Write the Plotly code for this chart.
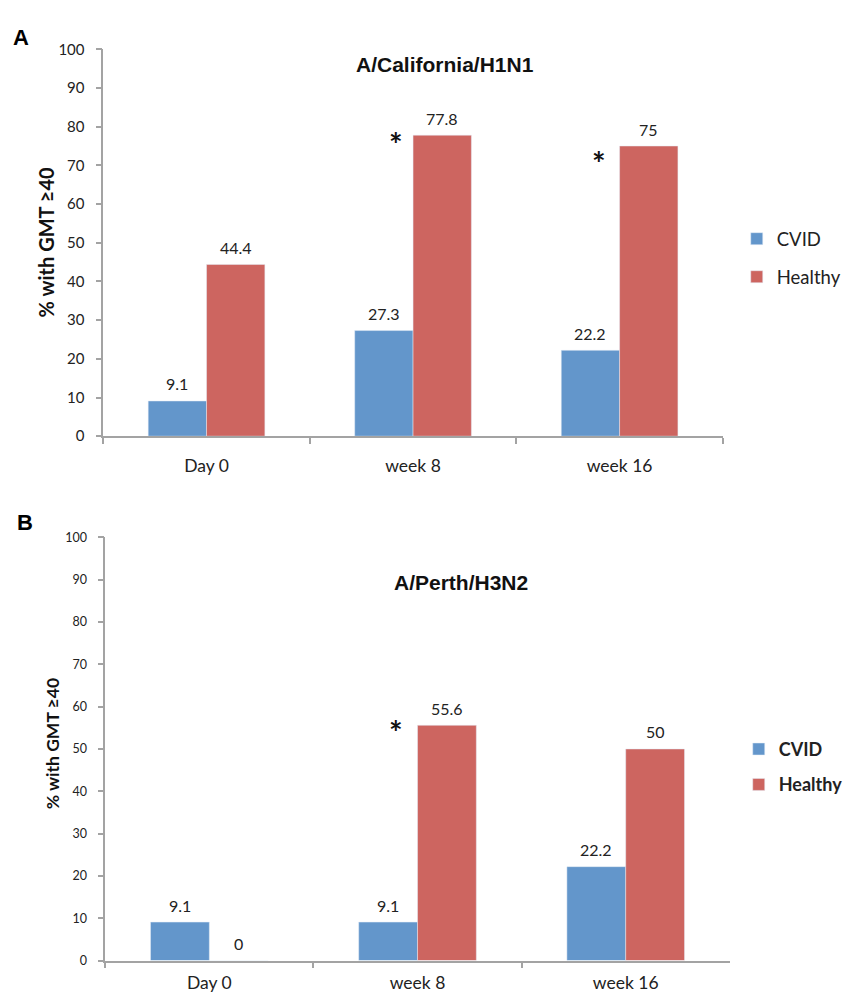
import plotly.graph_objects as go

# ---------------- data ----------------
categories = ["Day 0", "week 8", "week 16"]
h1n1_cvid = [9.1, 27.3, 22.2]
h1n1_healthy = [44.4, 77.8, 75]
h3n2_cvid = [9.1, 9.1, 22.2]
h3n2_healthy = [0, 55.6, 50]
y_ticks = list(range(0, 101, 10))
series_names = ["CVID", "Healthy"]
h1n1_star_cats = ["week 8", "week 16"]
h1n1_star_y = [77.4, 72.6]
h3n2_star_cats = ["week 8"]
h3n2_star_y = [55.9]

# ---------------- style ----------------
W, H = 848, 1002
BLUE = "#6396cb"
RED = "#cd6560"
AXIS = "#a3a3a3"
TXT = "#222222"
BODY = "Lato, 'Open Sans', sans-serif"
ARIAL = "'Liberation Sans', Arial, sans-serif"
BARGAP = 0.435

# pixel layout of the two panels
top_px = dict(x0=104, x1=728, y0=40, y1=434)
bot_px = dict(x0=106, x1=735, y0=537, y1=968)


def xdom(p):
    return [p["x0"] / W, p["x1"] / W]


def ydom(p):
    return [(H - p["y1"]) / H, (H - p["y0"]) / H]


fig = go.Figure()

fig.add_trace(go.Bar(x=categories, y=h1n1_cvid, name=series_names[0], marker_color=BLUE,
                     xaxis="x", yaxis="y", legend="legend", legendgroup="a1"))
fig.add_trace(go.Bar(x=categories, y=h1n1_healthy, name=series_names[1], marker_color=RED,
                     xaxis="x", yaxis="y", legend="legend", legendgroup="a2"))
fig.add_trace(go.Bar(x=categories, y=h3n2_cvid, name=series_names[0], marker_color=BLUE,
                     xaxis="x2", yaxis="y2", legend="legend2", legendgroup="b1"))
fig.add_trace(go.Bar(x=categories, y=h3n2_healthy, name=series_names[1], marker_color=RED,
                     xaxis="x2", yaxis="y2", legend="legend2", legendgroup="b2"))

annotations = []


def value_labels(xref, yref, cvid, healthy, p, size):
    cat_w = (p["x1"] - p["x0"]) / len(categories)
    bw = cat_w * (1 - BARGAP) / 2
    for c, v1, v2 in zip(categories, cvid, healthy):
        for v, sh in ((v1, -bw / 2), (v2, bw / 2)):
            annotations.append(dict(
                x=c, y=v, xref=xref, yref=yref, text=f"{v:g}", showarrow=False,
                xshift=sh, yshift=17, yanchor="middle",
                font=dict(family=BODY, size=size, color=TXT)))
    return bw


def stars(xref, yref, cats, ys, shifts):
    for c, v, s in zip(cats, ys, shifts):
        annotations.append(dict(
            x=c, y=v, xref=xref, yref=yref, text="<b>*</b>", showarrow=False,
            xshift=s, yshift=-8, yanchor="middle",
            font=dict(family=BODY, size=32, color="#111111")))


value_labels("x", "y", h1n1_cvid, h1n1_healthy, top_px, 16)
value_labels("x2", "y2", h3n2_cvid, h3n2_healthy, bot_px, 16)
stars("x", "y", h1n1_star_cats, h1n1_star_y, [-17, -21])
stars("x2", "y2", h3n2_star_cats, h3n2_star_y, [-22])

# titles, panel letters, axis titles
annotations += [
    dict(text="<b>A/California/H1N1</b>", x=448 / W, y=1 - 55 / H, xref="paper", yref="paper",
         showarrow=False, xanchor="center", yanchor="middle",
         font=dict(family=ARIAL, size=21, color="#111111")),
    dict(text="<b>A/Perth/H3N2</b>", x=464 / W, y=1 - 583 / H, xref="paper", yref="paper",
         showarrow=False, xanchor="center", yanchor="middle",
         font=dict(family=ARIAL, size=21, color="#111111")),
    dict(text="<b>A</b>", x=21 / W, y=1 - 28 / H, xref="paper", yref="paper",
         showarrow=False, xanchor="center", yanchor="middle",
         font=dict(family=ARIAL, size=22, color="#000000")),
    dict(text="<b>B</b>", x=25 / W, y=1 - 522 / H, xref="paper", yref="paper",
         showarrow=False, xanchor="center", yanchor="middle",
         font=dict(family=ARIAL, size=22, color="#000000")),
    dict(text="<b>% with GMT ≥40</b>", x=46 / W, y=1 - 237 / H, xref="paper", yref="paper",
         showarrow=False, textangle=-90, xanchor="center", yanchor="middle",
         font=dict(family=BODY, size=20, color="#111111")),
    dict(text="<b>% with GMT ≥40</b>", x=53 / W, y=1 - 747 / H, xref="paper", yref="paper",
         showarrow=False, textangle=-90, xanchor="center", yanchor="middle",
         font=dict(family=BODY, size=17.5, color="#111111")),
]

xcommon = dict(type="category", categoryorder="array", categoryarray=categories,
               range=[-0.5, 2.5], showline=True, linecolor=AXIS, linewidth=1.5,
               ticks="outside", tickson="boundaries", ticklen=6, tickcolor=AXIS, tickwidth=1.5,
               showgrid=False, zeroline=False)
ycommon = dict(range=[0, 100], tickmode="array", tickvals=y_ticks, showline=True,
               linecolor=AXIS, linewidth=1.5, ticks="outside", ticklen=6, tickcolor=AXIS,
               tickwidth=1.5, showgrid=False, zeroline=False, ticklabelstandoff=8)

fig.update_layout(
    width=W, height=H, margin=dict(l=0, r=0, t=0, b=0),
    paper_bgcolor="white", plot_bgcolor="white",
    barmode="group", bargap=BARGAP, bargroupgap=0,
    xaxis=dict(**xcommon, domain=xdom(top_px), anchor="y", ticklabelstandoff=13,
               tickfont=dict(family=BODY, size=17.5, color=TXT)),
    yaxis=dict(**ycommon, domain=ydom(top_px), anchor="x",
               tickfont=dict(family=BODY, size=15, color=TXT)),
    xaxis2=dict(**xcommon, domain=xdom(bot_px), anchor="y2", ticklabelstandoff=6,
                tickfont=dict(family=BODY, size=17.5, color=TXT)),
    yaxis2=dict(**ycommon, domain=ydom(bot_px), anchor="x2",
                tickfont=dict(family=BODY, size=12.5, color=TXT)),
    legend=dict(x=742 / W, y=1 - 214 / H, xanchor="left", yanchor="top",
                tracegroupgap=11, font=dict(family=BODY, size=18.5, color=TXT),
                bgcolor="rgba(0,0,0,0)"),
    legend2=dict(x=744 / W, y=1 - 734 / H, xanchor="left", yanchor="top",
                 tracegroupgap=9, font=dict(family=BODY, size=18, color=TXT, weight="bold"),
                 bgcolor="rgba(0,0,0,0)"),
    annotations=annotations,
    showlegend=True,
)

fig.write_html("out.html", config={"displayModeBar": False},
               post_script="document.body.style.margin='0';")
